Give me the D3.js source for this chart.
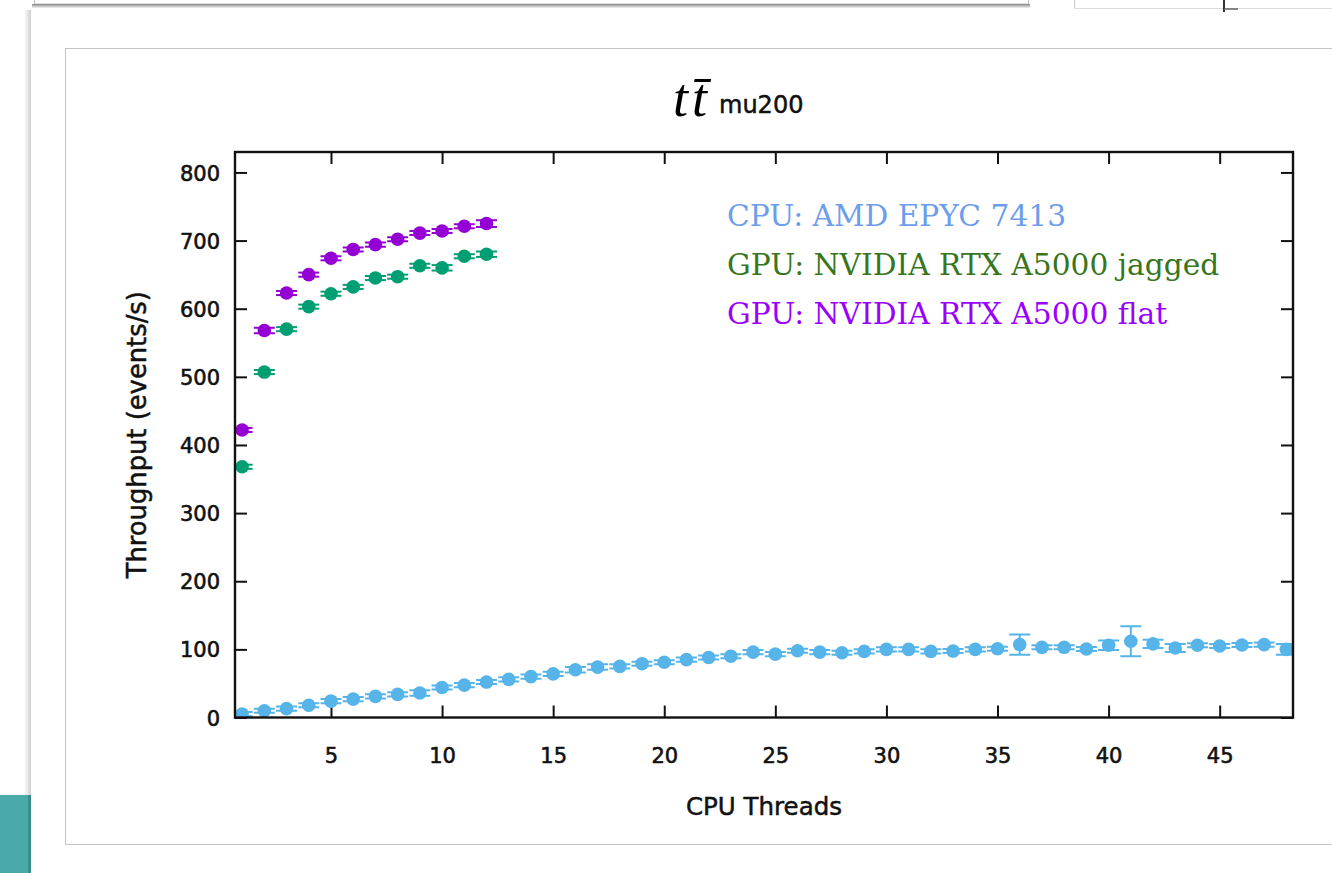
<!DOCTYPE html>
<html>
<head>
<meta charset="utf-8">
<script src="https://cdn.jsdelivr.net/npm/d3@7"></script>
<style>
  body { margin: 0; background: #ffffff; }
  svg { display: block; }
</style>
</head>
<body>
<svg id="chart" width="1332" height="873"></svg>
<script>
// ---- data ----
const threads = [1, 2, 3, 4, 5, 6, 7, 8, 9, 10, 11, 12, 13, 14, 15, 16, 17, 18, 19, 20, 21, 22, 23, 24,
                 25, 26, 27, 28, 29, 30, 31, 32, 33, 34, 35, 36, 37, 38, 39, 40, 41, 42, 43, 44, 45, 46, 47, 48];
const cpuThroughput = [5, 10, 13, 18, 24, 27, 31, 34, 36, 44, 47.5, 52, 56, 60, 64, 70, 74, 75, 79, 81,
                       85, 88, 90, 96, 93, 98, 96, 95, 97, 100, 100, 97, 97.5, 100, 101, 107, 103, 103, 100.5, 106,
                       112, 108, 102, 106, 105, 106.5, 107, 100];
const cpuError = [3, 3, 3, 3, 3, 3, 3, 3, 4, 3, 3, 3, 3, 3, 3, 4, 4, 3, 3, 3,
                  3, 3, 3, 3, 3, 3, 3, 3, 3, 3, 3, 3, 3, 3, 3, 15, 3, 3, 3, 7,
                  22, 6, 6, 3, 3, 3, 3, 8];

const gpuThreads = [1, 2, 3, 4, 5, 6, 7, 8, 9, 10, 11, 12];
const gpuJagged = [368, 507, 570, 603, 622, 632, 645, 647, 663, 660, 677, 680];
const gpuJaggedError = [3, 3, 3, 3, 3, 3, 3, 3, 3, 4, 3, 4];
const gpuFlat = [422, 568, 623, 650, 674, 687, 694, 702, 711, 714, 721, 725];
const gpuFlatError = [3, 4, 3, 3, 3, 3, 3, 3, 3, 3, 3, 5];

const xTicks = [5, 10, 15, 20, 25, 30, 35, 40, 45];
const yTicks = [0, 100, 200, 300, 400, 500, 600, 700, 800];

const seriesNames = ["CPU: AMD EPYC 7413", "GPU: NVIDIA RTX A5000 jagged", "GPU: NVIDIA RTX A5000 flat"];
const markerColors = ["#56b4e9", "#009e73", "#9400d3"];
const labelColors = ["#6d9eeb", "#38761d", "#9900ff"];

// ---- layout ----
const plot = { left: 235, right: 1293, top: 152, bottom: 717.5 };
const svg = d3.select("#chart");

// ---- surrounding page decoration ----
const defs = svg.append("defs");
const shadowV = defs.append("linearGradient").attr("id", "shadowV").attr("x1", 0).attr("y1", 0).attr("x2", 0).attr("y2", 1);
shadowV.append("stop").attr("offset", "0%").attr("stop-color", "#8a8a8a");
shadowV.append("stop").attr("offset", "100%").attr("stop-color", "#f2f2f2");
const shadowH = defs.append("linearGradient").attr("id", "shadowH").attr("x1", 0).attr("y1", 0).attr("x2", 1).attr("y2", 0);
shadowH.append("stop").attr("offset", "0%").attr("stop-color", "#ffffff");
shadowH.append("stop").attr("offset", "100%").attr("stop-color", "#cfcfcf");

// window strip along the top edge
svg.append("rect").attr("x", 34.5).attr("y", -4).attr("width", 994).attr("height", 8)
  .attr("fill", "#ffffff").attr("stroke", "#bdbdbd");
svg.append("rect").attr("x", 32).attr("y", 4).attr("width", 998).attr("height", 4).attr("fill", "url(#shadowV)");
svg.append("line").attr("x1", 1074.5).attr("x2", 1074.5).attr("y1", 0).attr("y2", 9).attr("stroke", "#c8c8c8");
svg.append("line").attr("x1", 1074).attr("x2", 1332).attr("y1", 8.5).attr("y2", 8.5).attr("stroke", "#dcdcdc");
svg.append("line").attr("x1", 1224).attr("x2", 1224).attr("y1", 0).attr("y2", 12).attr("stroke", "#333").attr("stroke-width", 2);
svg.append("line").attr("x1", 1224).attr("x2", 1238).attr("y1", 9).attr("y2", 9).attr("stroke", "#666").attr("stroke-width", 1.5);

// left page edge and teal block
svg.append("rect").attr("x", 24).attr("y", 10).attr("width", 7).attr("height", 863).attr("fill", "url(#shadowH)");
svg.append("rect").attr("x", 0).attr("y", 795).attr("width", 30).attr("height", 78).attr("fill", "#4aa9a9");
svg.append("rect").attr("x", 28).attr("y", 795).attr("width", 3).attr("height", 78).attr("fill", "#3b8e8e");

// slide image frame
svg.append("rect").attr("x", 65.5).attr("y", 48.5).attr("width", 1300).attr("height", 796)
  .attr("fill", "#ffffff").attr("stroke", "#c4c4c4");

// ---- scales ----
const x = d3.scaleLinear().domain([0.68, 48.3]).range([plot.left, plot.right]);
const y = d3.scaleLinear().domain([0, 830]).range([plot.bottom, plot.top]);

// ---- title ----
const title = svg.append("text").attr("x", 673).attr("y", 116);
title.append("tspan")
  .attr("font-family", "Liberation Serif").attr("font-style", "italic").attr("font-size", 54)
  .attr("letter-spacing", 4)
  .text("tt\u0304");
title.append("tspan")
  .attr("dx", 8).attr("dy", -3)
  .attr("font-family", "DejaVu Sans").attr("font-size", 24).attr("fill", "#111")
  .attr("stroke", "#111").attr("stroke-width", 0.5)
  .text("mu200");

// ---- axes ----
const axisFont = "DejaVu Sans";
const gx = svg.append("g").attr("transform", `translate(0,${plot.bottom})`)
  .call(d3.axisBottom(x).tickValues(xTicks).tickSize(-12).tickSizeOuter(0).tickPadding(31));
const gy = svg.append("g").attr("transform", `translate(${plot.left},0)`)
  .call(d3.axisLeft(y).tickValues(yTicks).tickSize(-12).tickSizeOuter(0).tickPadding(15));
const gxTop = svg.append("g").attr("transform", `translate(0,${plot.top})`)
  .call(d3.axisTop(x).tickValues(xTicks).tickSize(-12).tickSizeOuter(0).tickFormat(""));
const gyRight = svg.append("g").attr("transform", `translate(${plot.right},0)`)
  .call(d3.axisRight(y).tickValues(yTicks).tickSize(-12).tickSizeOuter(0).tickFormat(""));

[gx, gy, gxTop, gyRight].forEach(g => {
  g.selectAll("path.domain").remove();
  g.selectAll(".tick line").attr("stroke", "#111").attr("stroke-width", 2);
  g.selectAll(".tick text").attr("font-family", axisFont).attr("font-size", 21).attr("fill", "#111")
    .attr("stroke", "#111").attr("stroke-width", 0.6);
});
gy.selectAll(".tick text").attr("dy", "0.36em");

// axis titles
svg.append("text")
  .attr("x", (plot.left + plot.right) / 2).attr("y", 815)
  .attr("text-anchor", "middle")
  .attr("font-family", axisFont).attr("font-size", 24.5).attr("fill", "#111")
  .attr("stroke", "#111").attr("stroke-width", 0.5)
  .text("CPU Threads");
svg.append("text")
  .attr("transform", `translate(146,${(plot.top + plot.bottom) / 2}) rotate(-90)`)
  .attr("text-anchor", "middle")
  .attr("font-family", axisFont).attr("font-size", 25.8).attr("fill", "#111")
  .attr("stroke", "#111").attr("stroke-width", 0.5)
  .text("Throughput (events/s)");

// ---- data marks ----
defs.append("clipPath").attr("id", "plotClip").append("rect")
  .attr("x", plot.left).attr("y", plot.top)
  .attr("width", plot.right - plot.left).attr("height", plot.bottom - plot.top);
const marks = svg.append("g").attr("clip-path", "url(#plotClip)");

const capHalf = 10.5;
function drawSeries(xs, values, errors, color) {
  const rows = xs.map((t, i) => ({ t, v: values[i], e: errors[i] }));
  const g = marks.append("g").attr("stroke", color).attr("fill", color).attr("stroke-width", 2);
  const pt = g.selectAll("g.pt").data(rows).join("g").attr("class", "pt");
  pt.append("line")
    .attr("x1", d => x(d.t)).attr("x2", d => x(d.t))
    .attr("y1", d => y(d.v - d.e)).attr("y2", d => y(d.v + d.e));
  pt.append("line")
    .attr("x1", d => x(d.t) - capHalf).attr("x2", d => x(d.t) + capHalf)
    .attr("y1", d => y(d.v - d.e)).attr("y2", d => y(d.v - d.e));
  pt.append("line")
    .attr("x1", d => x(d.t) - capHalf).attr("x2", d => x(d.t) + capHalf)
    .attr("y1", d => y(d.v + d.e)).attr("y2", d => y(d.v + d.e));
  pt.append("circle")
    .attr("cx", d => x(d.t)).attr("cy", d => y(d.v)).attr("r", 6.8)
    .attr("stroke", "none");
}
drawSeries(threads, cpuThroughput, cpuError, markerColors[0]);
drawSeries(gpuThreads, gpuJagged, gpuJaggedError, markerColors[1]);
drawSeries(gpuThreads, gpuFlat, gpuFlatError, markerColors[2]);

// plot frame
svg.append("rect")
  .attr("x", plot.left).attr("y", plot.top)
  .attr("width", plot.right - plot.left).attr("height", plot.bottom - plot.top)
  .attr("fill", "none").attr("stroke", "#111").attr("stroke-width", 2.4);

// ---- legend ----
const legend = svg.append("g").attr("font-family", "DejaVu Serif").attr("font-size", 29.7);
legend.selectAll("text").data(seriesNames).join("text")
  .attr("x", 727)
  .attr("y", (d, i) => 226 + i * 49)
  .attr("fill", (d, i) => labelColors[i])
  .text(d => d);
</script>
</body>
</html>
